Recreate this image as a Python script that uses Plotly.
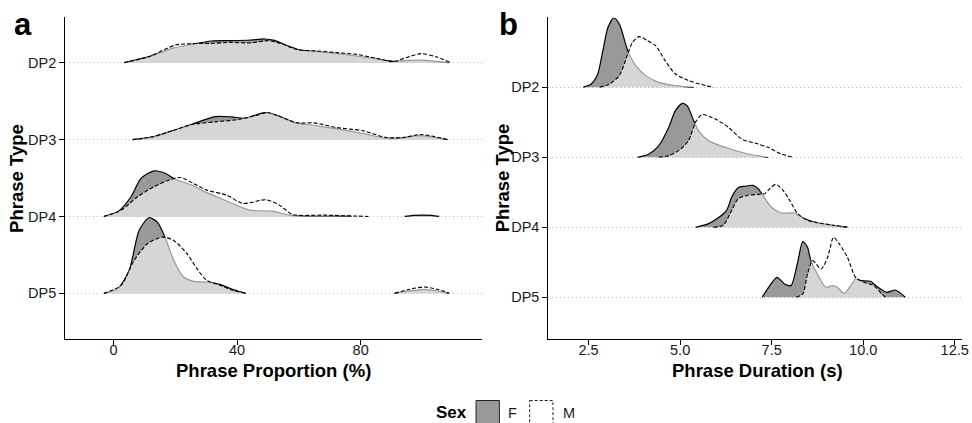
import plotly.graph_objects as go

# ---------------- data ----------------
categories = ["DP5", "DP4", "DP3", "DP2"]          # bottom -> top
cat_pos = {c: i + 1 for i, c in enumerate(categories)}

# Panel a : Phrase Proportion (%) ; heights in ridge units
a_DP2_F_x = [3.5, 11.5, 19.0, 25.3, 31.7, 38.1, 44.5, 48.9, 52.1, 56.3, 60.5, 65.9, 72.3, 78.7, 85.1, 90.5, 95.7, 101.0, 108.5]
a_DP2_F_h = [0, 0.078, 0.186, 0.238, 0.282, 0.286, 0.295, 0.308, 0.29, 0.22, 0.165, 0.143, 0.121, 0.087, 0.048, 0.017, 0.03, 0.03, 0]
a_DP2_M_x = [3.5, 11.5, 20.1, 25.4, 31.7, 38.1, 44.5, 49.9, 54.1, 59.5, 65.9, 72.3, 78.7, 85.1, 90.5, 94.7, 99.5, 104.3, 109.1]
a_DP2_M_h = [0, 0.078, 0.23, 0.247, 0.25, 0.264, 0.256, 0.286, 0.25, 0.169, 0.152, 0.13, 0.108, 0.056, 0.013, 0.065, 0.117, 0.078, 0]

a_DP3_F_x = [6.2, 12.6, 19.0, 25.4, 32.9, 38.2, 42.5, 48.9, 53.1, 58.5, 64.9, 72.3, 80.9, 88.3, 93.7, 99.0, 108.1]
a_DP3_F_h = [0, 0.035, 0.113, 0.199, 0.299, 0.295, 0.277, 0.351, 0.312, 0.221, 0.186, 0.139, 0.078, 0.017, 0.022, 0.052, 0]
a_DP3_M_x = [6.2, 12.6, 19.0, 25.4, 32.9, 40.3, 45.7, 49.9, 53.1, 59.5, 64.9, 72.3, 80.9, 88.3, 93.7, 99.5, 108.1]
a_DP3_M_h = [0, 0.035, 0.113, 0.195, 0.23, 0.26, 0.308, 0.351, 0.312, 0.217, 0.217, 0.156, 0.113, 0.026, 0.026, 0.065, 0]

a_DP4_F_x = [-3.1, 1.4, 5.7, 8.9, 13.1, 16.9, 19.5, 25.9, 29.1, 33.4, 39.8, 44.1, 51.5, 56.9, 62.1, 68.5, 77.1]
a_DP4_F_h = [0, 0.061, 0.256, 0.494, 0.593, 0.558, 0.494, 0.399, 0.329, 0.256, 0.147, 0.082, 0.069, 0.017, 0.004, 0.004, 0]
a_DP4_M_x = [-3.1, 2.5, 7.8, 13.1, 18.5, 21.7, 25.9, 30.2, 36.6, 41.9, 49.4, 53.7, 57.9, 68.6, 82.5]
a_DP4_M_h = [0, 0.082, 0.256, 0.386, 0.481, 0.506, 0.429, 0.342, 0.277, 0.169, 0.217, 0.147, 0.026, 0.017, 0]
a_DP4_F2_x = [94.2, 97.0, 100.0, 103.0, 105.4]
a_DP4_F2_h = [0, 0.014, 0.018, 0.014, 0]

a_DP5_F_x = [-3.1, 1.4, 5.1, 8.3, 11.5, 14.2, 16.9, 19.5, 22.7, 25.9, 30.2, 34.5, 38.7, 42.8]
a_DP5_F_h = [0, 0.061, 0.299, 0.818, 0.983, 0.926, 0.71, 0.429, 0.212, 0.156, 0.147, 0.117, 0.048, 0]
a_DP5_M_x = [-3.1, 2.5, 6.7, 11.0, 15.8, 19.5, 23.8, 27.0, 30.2, 34.5, 38.7, 42.8]
a_DP5_M_h = [0, 0.104, 0.429, 0.645, 0.731, 0.688, 0.516, 0.321, 0.169, 0.104, 0.039, 0]
a_DP5_F2_x = [91.0, 95.5, 100.6, 105.0, 108.6]
a_DP5_F2_h = [0, 0.03, 0.052, 0.03, 0]
a_DP5_M2_x = [91.0, 95.5, 100.6, 105.0, 108.6]
a_DP5_M2_h = [0, 0.05, 0.082, 0.05, 0]

# Panel b : Phrase Duration (s)
b_DP2_F_x = [2.35, 2.57, 2.75, 2.89, 3.03, 3.19, 3.34, 3.57, 3.79, 4.06, 4.42, 4.87, 5.37]
b_DP2_F_h = [0, 0.047, 0.19, 0.524, 0.857, 0.99, 0.904, 0.524, 0.31, 0.167, 0.071, 0.024, 0]
b_DP2_M_x = [2.80, 3.07, 3.34, 3.57, 3.70, 3.88, 4.11, 4.33, 4.59, 4.87, 5.23, 5.69, 5.91]
b_DP2_M_h = [0, 0.047, 0.167, 0.476, 0.643, 0.724, 0.667, 0.596, 0.381, 0.19, 0.096, 0.024, 0]

b_DP3_F_x = [3.84, 4.15, 4.42, 4.69, 4.87, 5.06, 5.19, 5.37, 5.50, 5.78, 6.23, 6.86, 7.40]
b_DP3_F_h = [0, 0.047, 0.167, 0.429, 0.667, 0.771, 0.738, 0.524, 0.381, 0.238, 0.143, 0.047, 0]
b_DP3_M_x = [4.42, 4.69, 4.96, 5.23, 5.42, 5.60, 5.96, 6.32, 6.68, 7.13, 7.40, 7.76, 8.08]
b_DP3_M_h = [0, 0.024, 0.096, 0.238, 0.5, 0.61, 0.547, 0.429, 0.261, 0.19, 0.143, 0.047, 0]

b_DP4_F_x = [5.42, 5.78, 6.05, 6.27, 6.41, 6.59, 6.77, 6.99, 7.13, 7.26, 7.49, 7.76, 8.12, 8.39, 8.75, 9.20, 9.57]
b_DP4_F_h = [0, 0.053, 0.139, 0.243, 0.433, 0.567, 0.586, 0.6, 0.553, 0.457, 0.29, 0.204, 0.204, 0.124, 0.061, 0.024, 0]
b_DP4_M_x = [5.91, 6.18, 6.41, 6.59, 6.86, 7.13, 7.31, 7.45, 7.61, 7.81, 7.99, 8.21, 8.48, 8.75, 9.20, 9.61]
b_DP4_M_h = [0, 0.029, 0.243, 0.41, 0.457, 0.471, 0.481, 0.553, 0.614, 0.529, 0.386, 0.196, 0.1, 0.067, 0.029, 0]

b_DP5_F_x = [7.24, 7.45, 7.65, 7.85, 8.03, 8.20, 8.35, 8.48, 8.57, 8.75, 8.98, 9.16, 9.29, 9.48, 9.66, 9.79, 9.93, 10.20, 10.38, 10.65, 10.88, 11.15]
b_DP5_F_h = [0, 0.167, 0.286, 0.19, 0.167, 0.476, 0.796, 0.714, 0.524, 0.333, 0.143, 0.167, 0.143, 0.057, 0.167, 0.261, 0.238, 0.229, 0.153, 0.071, 0.104, 0]
b_DP5_M_x = [8.17, 8.35, 8.48, 8.62, 8.85, 9.03, 9.19, 9.35, 9.57, 9.79, 10.02, 10.29, 10.51, 10.61]
b_DP5_M_h = [0, 0.047, 0.333, 0.524, 0.404, 0.571, 0.857, 0.761, 0.571, 0.286, 0.214, 0.167, 0.047, 0]

a_ticks = [0, 40, 80]
a_ticktext = ["0", "40", "80"]
b_ticks = [2.5, 5.0, 7.5, 10.0, 12.5]
b_ticktext = ["2.5", "5.0", "7.5", "10.0", "12.5"]

# ---------------- styles ----------------
FONT = "Liberation Sans, Arial, Helvetica, sans-serif"
F_FILL = "#999999"
M_FILL = "rgba(255,255,255,0.6)"
W, H = 972, 423

fig = go.Figure()


def ridge(xs, hs, cat, sex, xa, ya):
    base = cat_pos[cat]
    fig.add_trace(go.Scatter(x=xs, y=[base] * len(xs), mode="lines",
                             line=dict(width=0, color="rgba(0,0,0,0)"),
                             hoverinfo="skip", showlegend=False, xaxis=xa, yaxis=ya))
    if sex == "F":
        line = dict(color="black", width=1.2, shape="spline", smoothing=0.7)
        fill = F_FILL
    else:
        line = dict(color="black", width=1.1, dash="4px,2px", shape="spline", smoothing=0.7)
        fill = M_FILL
    fig.add_trace(go.Scatter(x=xs, y=[base + h for h in hs], mode="lines",
                             line=line, fill="tonexty", fillcolor=fill,
                             name=sex, showlegend=False, xaxis=xa, yaxis=ya))


# panel a
ridge(a_DP2_F_x, a_DP2_F_h, "DP2", "F", "x", "y")
ridge(a_DP2_M_x, a_DP2_M_h, "DP2", "M", "x", "y")
ridge(a_DP3_F_x, a_DP3_F_h, "DP3", "F", "x", "y")
ridge(a_DP3_M_x, a_DP3_M_h, "DP3", "M", "x", "y")
ridge(a_DP4_F_x, a_DP4_F_h, "DP4", "F", "x", "y")
ridge(a_DP4_F2_x, a_DP4_F2_h, "DP4", "F", "x", "y")
ridge(a_DP4_M_x, a_DP4_M_h, "DP4", "M", "x", "y")
ridge(a_DP5_F_x, a_DP5_F_h, "DP5", "F", "x", "y")
ridge(a_DP5_F2_x, a_DP5_F2_h, "DP5", "F", "x", "y")
ridge(a_DP5_M_x, a_DP5_M_h, "DP5", "M", "x", "y")
ridge(a_DP5_M2_x, a_DP5_M2_h, "DP5", "M", "x", "y")
# panel b
ridge(b_DP2_F_x, b_DP2_F_h, "DP2", "F", "x2", "y2")
ridge(b_DP2_M_x, b_DP2_M_h, "DP2", "M", "x2", "y2")
ridge(b_DP3_F_x, b_DP3_F_h, "DP3", "F", "x2", "y2")
ridge(b_DP3_M_x, b_DP3_M_h, "DP3", "M", "x2", "y2")
ridge(b_DP4_F_x, b_DP4_F_h, "DP4", "F", "x2", "y2")
ridge(b_DP4_M_x, b_DP4_M_h, "DP4", "M", "x2", "y2")
ridge(b_DP5_F_x, b_DP5_F_h, "DP5", "F", "x2", "y2")
ridge(b_DP5_M_x, b_DP5_M_h, "DP5", "M", "x2", "y2")

tickfont = dict(family=FONT, size=14.5, color="#1a1a1a")
ydom = [(H - 339.3) / H, (H - 17.3) / H]

common_x = dict(showline=True, linecolor="black", linewidth=1, ticks="outside", ticklen=5,
                tickcolor="black", tickwidth=1, showgrid=False, zeroline=False, tickfont=tickfont,
                ticklabeloverflow="allow", ticklabelstandoff=-8)
common_y = dict(showline=True, linecolor="black", linewidth=1, ticks="outside", ticklen=5,
                tickcolor="black", tickwidth=1, showgrid=True, gridcolor="#b8b8b8", griddash="1px,3px",
                gridwidth=1.2, zeroline=False, tickfont=tickfont,
                tickvals=[cat_pos[c] for c in categories], ticktext=categories)

fig.update_layout(
    width=W, height=H, margin=dict(l=0, r=0, t=0, b=0), autosize=False,
    paper_bgcolor="white", plot_bgcolor="white", showlegend=False,
    xaxis=dict(domain=[65.7 / W, 485 / W], range=[-15.6, 119.1], anchor="y",
               tickvals=a_ticks, ticktext=a_ticktext, **common_x),
    yaxis=dict(domain=ydom, range=[0.402, 4.59], anchor="x", **common_y),
    xaxis2=dict(domain=[552.3 / W, 969 / W], range=[1.40, 12.70], anchor="y2",
                tickvals=b_ticks, ticktext=b_ticktext, **common_x),
    yaxis2=dict(domain=ydom, range=[0.4, 5.0], anchor="x2", **common_y),
)


def px(x):
    return x / W


def py(y):
    return (H - y) / H


title_font = dict(family=FONT, size=18.5, color="black", weight="bold")
ann = [
    dict(text="a", x=px(12), y=py(25), xanchor="left", yanchor="middle",
         font=dict(family=FONT, size=31, color="black", weight="bold")),
    dict(text="b", x=px(501), y=py(25), xanchor="left", yanchor="middle",
         font=dict(family=FONT, size=31, color="black", weight="bold")),
    dict(text="Phrase Proportion (%)", x=px(275), y=py(370), xanchor="center", yanchor="middle", font=title_font),
    dict(text="Phrase Duration (s)", x=px(762.5), y=py(370), xanchor="center", yanchor="middle", font=title_font),
    dict(text="Phrase Type", x=px(16), y=py(178), xanchor="center", yanchor="middle", textangle=-90, font=title_font),
    dict(text="Phrase Type", x=px(506), y=py(178), xanchor="center", yanchor="middle", textangle=-90, font=title_font),
    dict(text="Sex", x=px(455), y=py(412), xanchor="center", yanchor="middle",
         font=dict(family=FONT, size=17, color="black", weight="bold")),
    dict(text="F", x=px(516.5), y=py(412.5), xanchor="center", yanchor="middle", font=tickfont),
    dict(text="M", x=px(573.5), y=py(412.5), xanchor="center", yanchor="middle", font=tickfont),
]
for a in ann:
    a.update(xref="paper", yref="paper", showarrow=False)
fig.update_layout(annotations=ann)

fig.add_shape(type="rect", xref="paper", yref="paper", x0=px(479.5), x1=px(503), y0=py(400.5), y1=py(428),
              fillcolor=F_FILL, line=dict(color="#222222", width=1))
fig.add_shape(type="rect", xref="paper", yref="paper", x0=px(533.5), x1=px(557), y0=py(400.5), y1=py(428),
              fillcolor="white", line=dict(color="#222222", width=1, dash="3px,2px"))

fig.write_html("out.html", config={"displayModeBar": False},
               post_script="document.body.style.margin='0px';document.body.style.overflow='hidden';")
